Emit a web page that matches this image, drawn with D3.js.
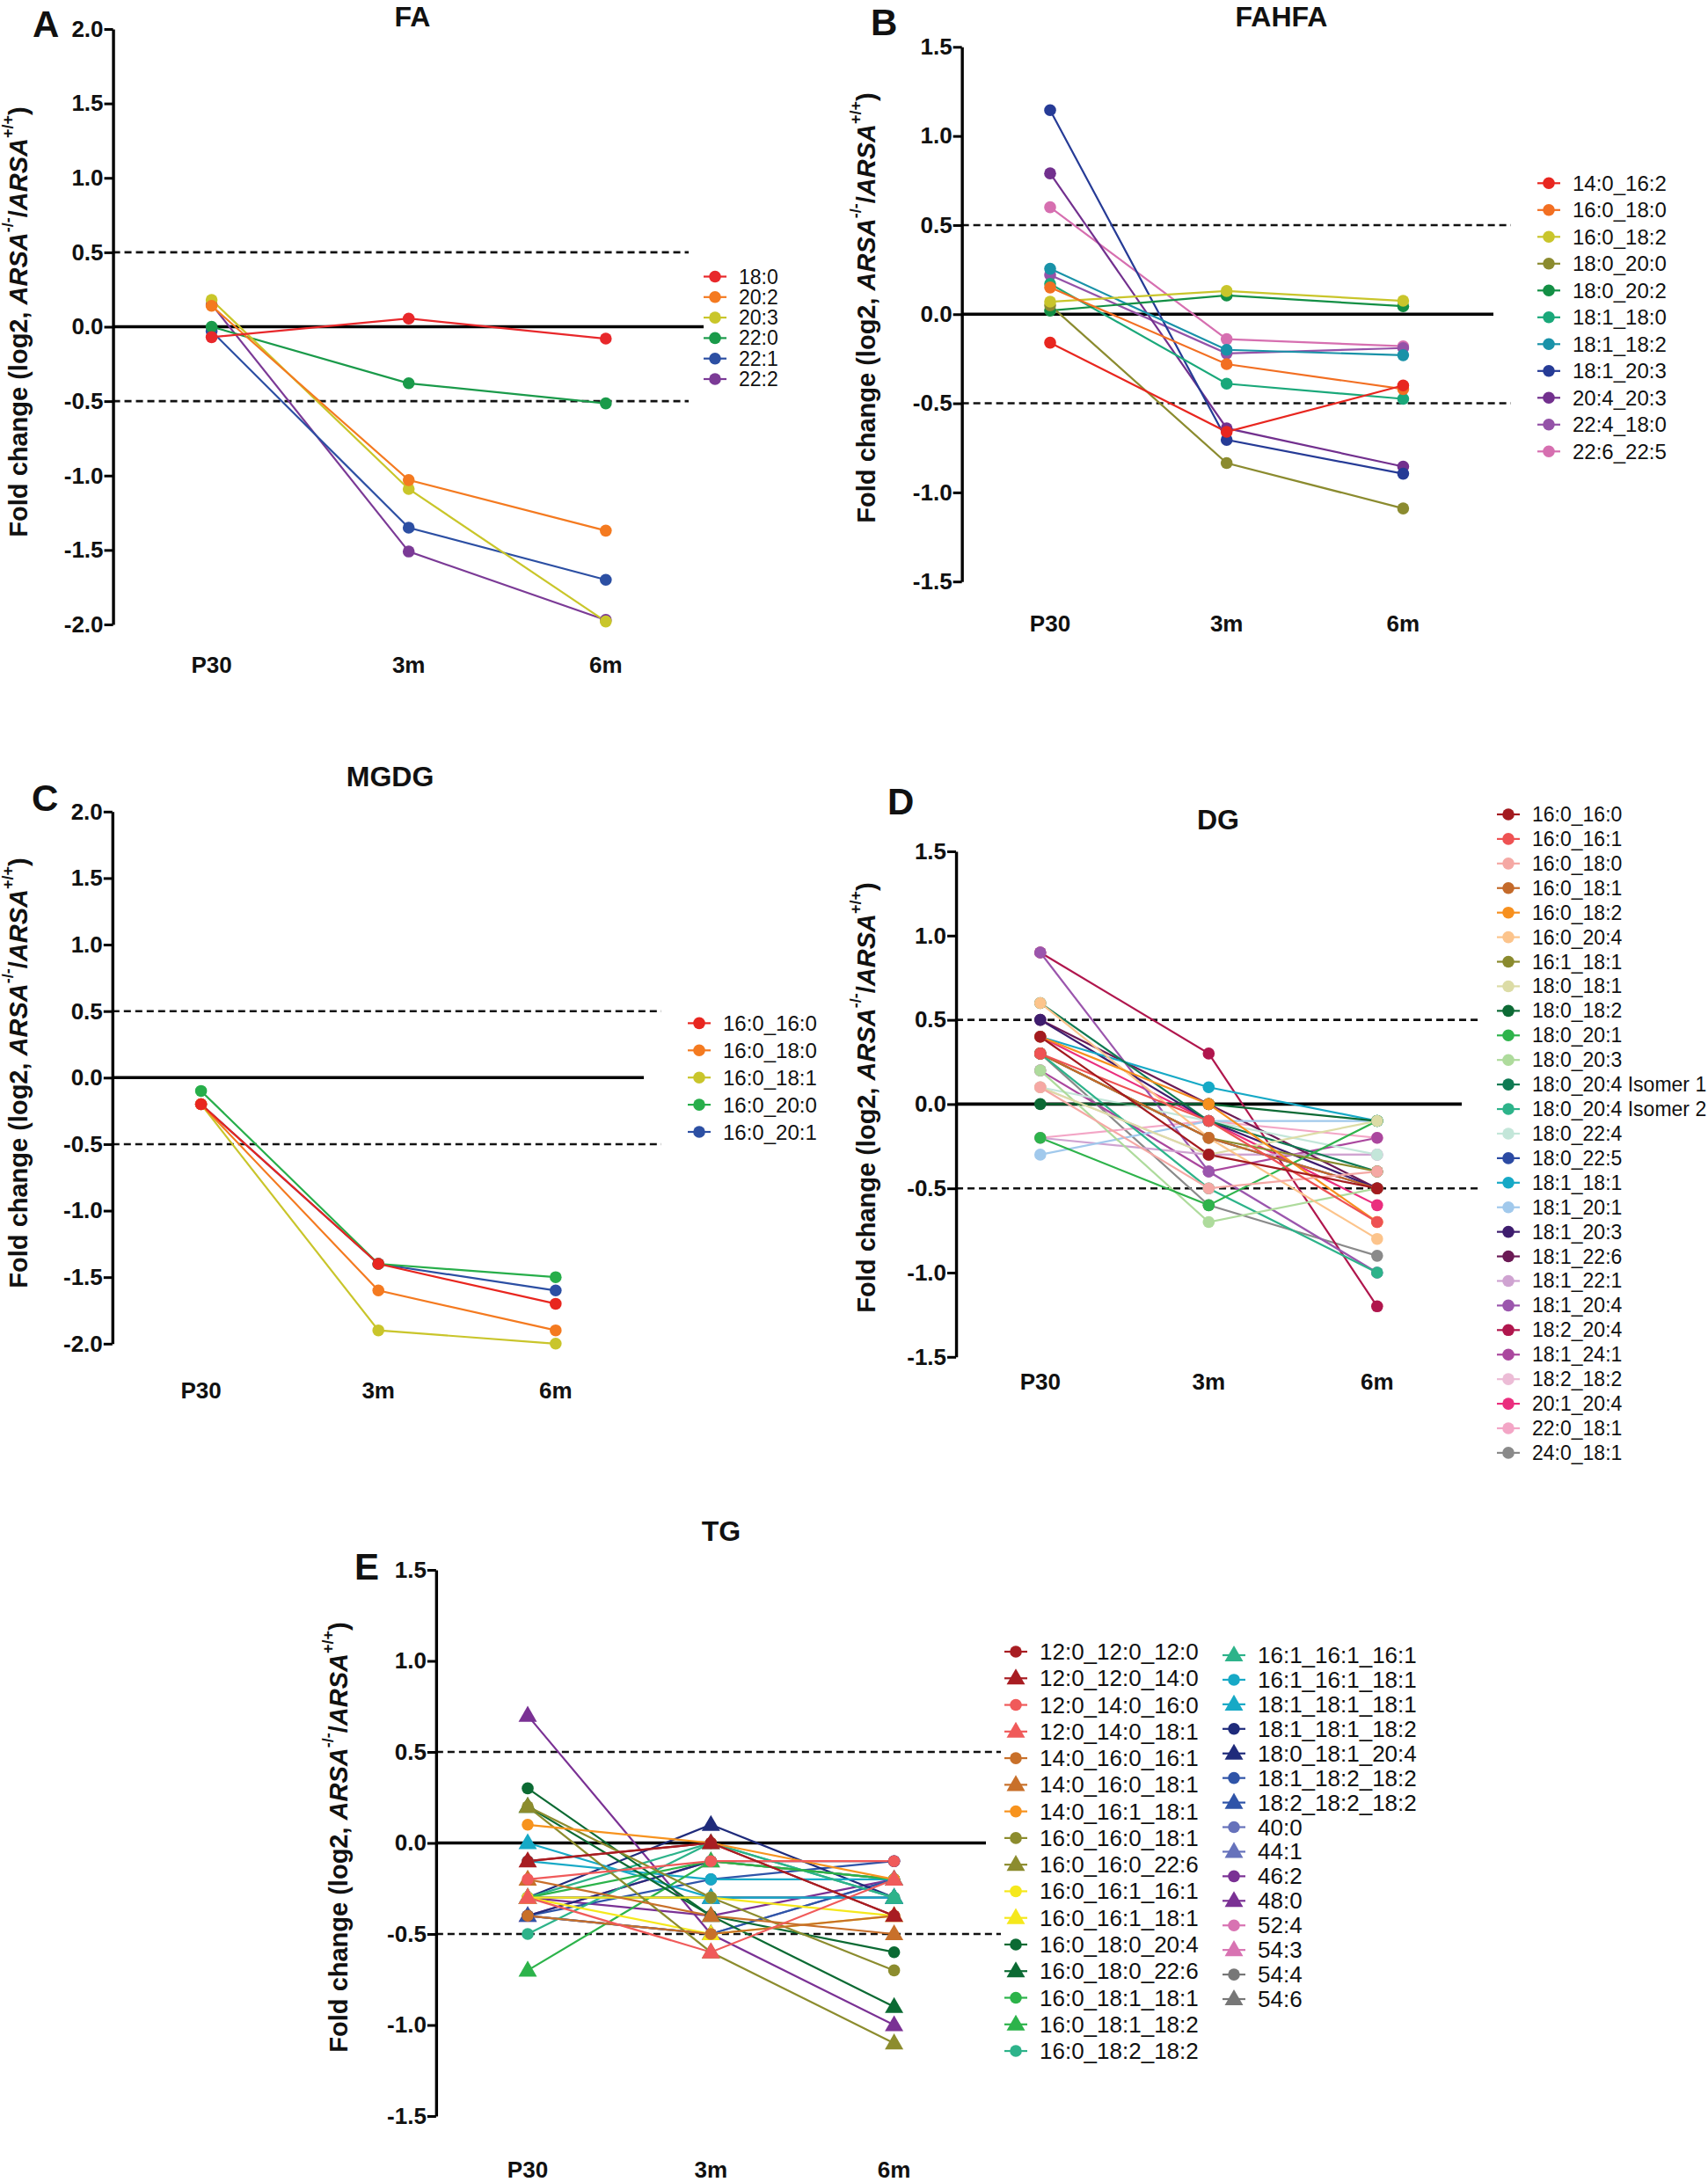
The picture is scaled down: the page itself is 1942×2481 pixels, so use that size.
<!DOCTYPE html>
<html><head><meta charset="utf-8">
<script src="https://cdn.jsdelivr.net/npm/d3@7"></script>
<style>
body{margin:0;background:#fff}
svg text{font-family:"Liberation Sans",Arial,Helvetica,sans-serif}
</style>
</head><body>
<svg id="chart" width="1942" height="2481" xmlns="http://www.w3.org/2000/svg"></svg>
<script>
// ---------------- DATA ----------------
const categories = ["P30", "3m", "6m"];

// Panel A: FA
const faLabels = ["18:0", "20:2", "20:3", "22:0", "22:1", "22:2"];
const faValues = [
  [-0.07, 0.055, -0.08],
  [0.14, -1.03, -1.37],
  [0.18, -1.09, -1.98],
  [0.0, -0.38, -0.515],
  [-0.03, -1.35, -1.70],
  [0.15, -1.51, -1.97]
];
const faColors = ["#e8282b", "#f47a20", "#c9c62a", "#1a9a4a", "#2c4fa3", "#7b3a96"];

// Panel B: FAHFA
const fahfaLabels = ["14:0_16:2", "16:0_18:0", "16:0_18:2", "18:0_20:0", "18:0_20:2", "18:1_18:0", "18:1_18:2", "18:1_20:3", "20:4_20:3", "22:4_18:0", "22:6_22:5"];
const fahfaValues = [
  [-0.16, -0.66, -0.40],
  [0.15, -0.28, -0.42],
  [0.07, 0.13, 0.075],
  [0.05, -0.835, -1.09],
  [0.02, 0.105, 0.045],
  [0.17, -0.39, -0.475],
  [0.255, -0.20, -0.23],
  [1.145, -0.705, -0.895],
  [0.79, -0.64, -0.855],
  [0.22, -0.22, -0.19],
  [0.60, -0.14, -0.18]
];
const fahfaColors = ["#e8261f", "#f26f22", "#c9c52b", "#8b8b2f", "#138f45", "#1aa87a", "#1992a8", "#263b96", "#72308e", "#9452a8", "#d66fb0"];

// Panel C: MGDG
const mgdgLabels = ["16:0_16:0", "16:0_18:0", "16:0_18:1", "16:0_20:0", "16:0_20:1"];
const mgdgValues = [
  [-0.2, -1.4, -1.7],
  [-0.2, -1.6, -1.9],
  [-0.2, -1.9, -2.0],
  [-0.1, -1.4, -1.5],
  [-0.2, -1.4, -1.6]
];
const mgdgColors = ["#e8261f", "#f47a20", "#c9c52b", "#27ae4a", "#2c4fa3"];

// Panel D: DG
const dgLabels = ["16:0_16:0", "16:0_16:1", "16:0_18:0", "16:0_18:1", "16:0_18:2", "16:0_20:4", "16:1_18:1", "18:0_18:1", "18:0_18:2", "18:0_20:1", "18:0_20:3", "18:0_20:4 Isomer 1", "18:0_20:4 Isomer 2", "18:0_22:4", "18:0_22:5", "18:1_18:1", "18:1_20:1", "18:1_20:3", "18:1_22:6", "18:1_22:1", "18:1_20:4", "18:2_20:4", "18:1_24:1", "18:2_18:2", "20:1_20:4", "22:0_18:1", "24:0_18:1"];
const dgValues = [
  [0.4, -0.3, -0.5],
  [0.3, -0.1, -0.7],
  [0.1, -0.5, -0.4],
  [0.3, -0.2, -0.5],
  [0.4, 0.0, -0.7],
  [0.6, -0.2, -0.8],
  [0.3, -0.2, -0.4],
  [0.1, -0.3, -0.1],
  [0.0, 0.0, -0.1],
  [-0.2, -0.6, -0.1],
  [0.2, -0.7, -0.5],
  [0.6, -0.1, -0.4],
  [0.3, -0.5, -1.0],
  [0.1, -0.1, -0.3],
  [0.3, -0.2, -0.5],
  [0.4, 0.1, -0.1],
  [-0.3, -0.1, -0.1],
  [0.5, -0.1, -0.5],
  [0.5, 0.0, -0.5],
  [-0.2, -0.3, -0.3],
  [0.9, -0.4, -1.0],
  [0.9, 0.3, -1.2],
  [0.2, -0.4, -0.2],
  [0.1, -0.3, -0.3],
  [0.4, -0.1, -0.6],
  [-0.2, -0.1, -0.2],
  [0.3, -0.6, -0.9]
];
const dgColors = ["#a31a1f", "#ee5253", "#f5a8a4", "#c46a2a", "#f7901e", "#fcc48c", "#8a8a2e", "#dcdca6", "#0d6a35", "#2eb34b", "#aedb9c", "#0f7a53", "#2db38a", "#c3e6d9", "#2b4aa3", "#16a9c6", "#a1c9ec", "#3e1d6e", "#6b1a55", "#cfa3d1", "#9b56ad", "#b0164d", "#aa479e", "#ecbcd6", "#ea2e7e", "#f3a6c6", "#8a8a8a"];

// Panel E: TG
const tgLabels = ["12:0_12:0_12:0", "12:0_12:0_14:0", "12:0_14:0_16:0", "12:0_14:0_18:1", "14:0_16:0_16:1", "14:0_16:0_18:1", "14:0_16:1_18:1", "16:0_16:0_18:1", "16:0_16:0_22:6", "16:0_16:1_16:1", "16:0_16:1_18:1", "16:0_18:0_20:4", "16:0_18:0_22:6", "16:0_18:1_18:1", "16:0_18:1_18:2", "16:0_18:2_18:2", "16:1_16:1_16:1", "16:1_16:1_18:1", "18:1_18:1_18:1", "18:1_18:1_18:2", "18:0_18:1_20:4", "18:1_18:2_18:2", "18:2_18:2_18:2", "40:0", "44:1", "46:2", "48:0", "52:4", "54:3", "54:4", "54:6"];
const tgShapes = ["circle", "triangle", "circle", "triangle", "circle", "triangle", "circle", "circle", "triangle", "circle", "triangle", "circle", "triangle", "circle", "triangle", "circle", "triangle", "circle", "triangle", "circle", "triangle", "circle", "triangle", "circle", "triangle", "circle", "triangle", "circle", "triangle", "circle", "triangle"];
const tgValues = [
  [-0.1, 0.0, -0.4],
  [-0.1, 0.0, -0.4],
  [-0.2, -0.1, -0.1],
  [-0.3, -0.6, -0.2],
  [-0.4, -0.5, -0.4],
  [-0.2, -0.4, -0.5],
  [0.1, 0.0, -0.2],
  [0.2, -0.3, -0.7],
  [0.2, -0.6, -1.1],
  [-0.3, -0.3, -0.4],
  [-0.3, -0.5, -0.4],
  [0.3, -0.4, -0.6],
  [0.2, -0.4, -0.9],
  [-0.3, -0.1, -0.2],
  [-0.7, -0.1, -0.2],
  [-0.5, 0.0, -0.3],
  [-0.3, 0.0, -0.3],
  [-0.1, -0.2, -0.2],
  [0.0, -0.3, -0.3],
  [-0.4, -0.1, -0.1],
  [-0.3, 0.1, -0.3],
  [-0.4, -0.2, -0.1],
  [-0.4, -0.5, -0.2],
  [-0.4, -0.5, -0.2],
  [-0.3, -0.3, -0.3],
  [-0.3, -0.4, -0.2],
  [0.7, -0.5, -1.0],
  [-0.4, -0.1, -0.2],
  [-0.4, -0.1, -0.2],
  [-0.3, -0.3, -0.3],
  [-0.3, -0.3, -0.3]
];
const tgColors = ["#a81d22", "#a81d22", "#f05a5a", "#f05a5a", "#c8702a", "#c8702a", "#f7931e", "#8c8c2e", "#8c8c2e", "#f5e81c", "#f5e81c", "#0b6a33", "#0b6a33", "#2cb34a", "#2cb34a", "#2db38a", "#2db38a", "#17a9c6", "#17a9c6", "#1f2b7b", "#1f2b7b", "#2f54a8", "#2f54a8", "#6672bb", "#6672bb", "#7a3194", "#7a3194", "#d873b2", "#d873b2", "#777777", "#777777"];

const ticksWide = [-2.0, -1.5, -1.0, -0.5, 0.0, 0.5, 1.0, 1.5, 2.0];
const ticksNarrow = [-1.5, -1.0, -0.5, 0.0, 0.5, 1.0, 1.5];

// ---------------- LAYOUT ----------------
const svg = d3.select("#chart");
const FONT = '"Liberation Sans",Arial,Helvetica,sans-serif';

const panels = [
  { letter: "A", lx: 37, ly: 42, title: "FA", tx: 469, ty: 30,
    labels: faLabels, values: faValues, colors: faColors,
    x0: 240.6, step: 224.1, yMin: -2, yMax: 2, yTopPx: 33, yBotPx: 710, ticks: ticksWide,
    zeroEnd: 800, dashEnd: 783, xLabY: 765, ylabX: 21, ylabY: 366,
    leg: { x: 813, y0: 314.5, dy: 23.3, fs: 23 } },
  { letter: "B", lx: 990, ly: 40, title: "FAHFA", tx: 1457, ty: 30,
    labels: fahfaLabels, values: fahfaValues, colors: fahfaColors,
    x0: 1194, step: 200.7, yMin: -1.5, yMax: 1.5, yTopPx: 53.3, yBotPx: 661.2, ticks: ticksNarrow,
    zeroEnd: 1698, dashEnd: 1718, xLabY: 718, ylabX: 985, ylabY: 350,
    leg: { x: 1761, y0: 208.3, dy: 30.5, fs: 24 } },
  { letter: "C", lx: 36, ly: 922, title: "MGDG", tx: 443.5, ty: 894,
    labels: mgdgLabels, values: mgdgValues, colors: mgdgColors,
    x0: 228.6, step: 201.6, yMin: -2, yMax: 2, yTopPx: 922.8, yBotPx: 1527.8, ticks: ticksWide,
    zeroEnd: 732, dashEnd: 752, xLabY: 1590, ylabX: 21, ylabY: 1220,
    leg: { x: 795, y0: 1163.4, dy: 30.9, fs: 24 } },
  { letter: "D", lx: 1009, ly: 926, title: "DG", tx: 1385, ty: 943,
    labels: dgLabels, values: dgValues, colors: dgColors,
    x0: 1182.8, step: 191.5, yMin: -1.5, yMax: 1.5, yTopPx: 968, yBotPx: 1542.8, ticks: ticksNarrow,
    zeroEnd: 1662, dashEnd: 1683, xLabY: 1580, ylabX: 985, ylabY: 1248,
    leg: { x: 1715, y0: 926, dy: 27.92, fs: 23 } },
  { letter: "E", lx: 403, ly: 1796, title: "TG", tx: 820, ty: 1752,
    labels: tgLabels, values: tgValues, colors: tgColors, shapes: tgShapes,
    x0: 600, step: 208.3, yMin: -1.5, yMax: 1.5, yTopPx: 1785, yBotPx: 2406, ticks: ticksNarrow,
    zeroEnd: 1121, dashEnd: 1138, xLabY: 2476, ylabX: 385, ylabY: 2089,
    leg: { x: 1155, y0: 1878, dy: 30.27, fs: 26, perCol: 16, colDx: 248, y0b: 1882, dyb: 27.93 } }
];

function marker(sel, shape, color, cx, cy) {
  if (shape === "triangle") {
    sel.append("path")
      .attr("d", d3.symbol(d3.symbolTriangle, 190)())
      .attr("transform", `translate(${cx},${cy + 1})`)
      .attr("fill", color);
  } else {
    sel.append("circle").attr("cx", cx).attr("cy", cy).attr("r", 6.8).attr("fill", color);
  }
}

function drawPanel(p) {
  const g = svg.append("g");
  const x = d3.scalePoint().domain(categories).range([p.x0, p.x0 + 2 * p.step]);
  const y = d3.scaleLinear().domain([p.yMin, p.yMax]).range([p.yBotPx, p.yTopPx]);
  const axisX = p.x0 - p.step / 2;

  // dashed threshold lines
  [0.5, -0.5].forEach(v => {
    g.append("line").attr("x1", axisX).attr("x2", p.dashEnd)
      .attr("y1", y(v)).attr("y2", y(v))
      .attr("stroke", "#111").attr("stroke-width", 2.6).attr("stroke-dasharray", "8,5");
  });
  // zero line
  g.append("line").attr("x1", axisX).attr("x2", p.zeroEnd)
    .attr("y1", y(0)).attr("y2", y(0))
    .attr("stroke", "#000").attr("stroke-width", 3.6);

  // y axis
  const ax = g.append("g").attr("transform", `translate(${axisX},0)`)
    .call(d3.axisLeft(y).tickValues(p.ticks).tickFormat(d => d.toFixed(1))
      .tickSize(10).tickSizeOuter(0).tickPadding(1));
  ax.select(".domain").attr("stroke", "#000").attr("stroke-width", 3.4);
  ax.selectAll(".tick line").attr("stroke", "#000").attr("stroke-width", 3);
  ax.selectAll(".tick text").attr("font-size", 26).attr("font-weight", "bold")
    .attr("font-family", FONT).attr("fill", "#111");

  // x category labels
  g.selectAll(".xlab").data(categories).enter().append("text")
    .attr("x", d => x(d)).attr("y", p.xLabY)
    .attr("text-anchor", "middle").attr("font-size", 26).attr("font-weight", "bold")
    .attr("fill", "#111").text(d => d);

  // draw in reverse so that first series end up on top
  const order = d3.range(p.values.length).reverse();
  const line = d3.line().x((d, i) => x(categories[i])).y(d => y(d));
  order.forEach(k => {
    g.append("path").attr("d", line(p.values[k])).attr("fill", "none")
      .attr("stroke", p.colors[k]).attr("stroke-width", 2.2);
  });
  order.forEach(k => {
    const shape = p.shapes ? p.shapes[k] : "circle";
    p.values[k].forEach((v, i) => marker(g, shape, p.colors[k], x(categories[i]), y(v)));
  });

  // title and panel letter
  g.append("text").attr("x", p.tx).attr("y", p.ty).attr("text-anchor", "middle")
    .attr("font-size", 32).attr("font-weight", "bold").attr("fill", "#111").text(p.title);
  g.append("text").attr("x", p.lx).attr("y", p.ly)
    .attr("font-size", 42).attr("font-weight", "bold").attr("fill", "#111").text(p.letter);

  // y label
  const fs = 29;
  const t = g.append("text")
    .attr("transform", `translate(${p.ylabX},${p.ylabY}) rotate(-90)`)
    .attr("text-anchor", "middle").attr("dominant-baseline", "central")
    .attr("font-size", fs).attr("font-weight", "bold").attr("fill", "#111");
  t.append("tspan").text("Fold change (log2, ");
  t.append("tspan").attr("font-style", "italic").text("ARSA");
  t.append("tspan").attr("font-size", fs * 0.62).attr("dy", -fs * 0.42).text("-/-");
  t.append("tspan").attr("dy", fs * 0.42).text("/");
  t.append("tspan").attr("font-style", "italic").text("ARSA");
  t.append("tspan").attr("font-size", fs * 0.62).attr("dy", -fs * 0.42).text("+/+");
  t.append("tspan").attr("dy", fs * 0.42).text(")");

  // legend
  const L = p.leg;
  p.labels.forEach((lab, k) => {
    let lx = L.x, ly = L.y0 + k * L.dy;
    if (L.perCol && k >= L.perCol) {
      lx = L.x + L.colDx;
      ly = L.y0b + (k - L.perCol) * L.dyb;
    }
    const shape = p.shapes ? p.shapes[k] : "circle";
    g.append("line").attr("x1", lx - 13).attr("x2", lx + 13).attr("y1", ly).attr("y2", ly)
      .attr("stroke", p.colors[k]).attr("stroke-width", 2.2);
    marker(g, shape, p.colors[k], lx, ly);
    g.append("text").attr("x", lx + 27).attr("y", ly)
      .attr("dominant-baseline", "central").attr("font-size", L.fs)
      .attr("fill", "#111").text(lab);
  });
}

panels.forEach(drawPanel);
</script>
</body></html>
